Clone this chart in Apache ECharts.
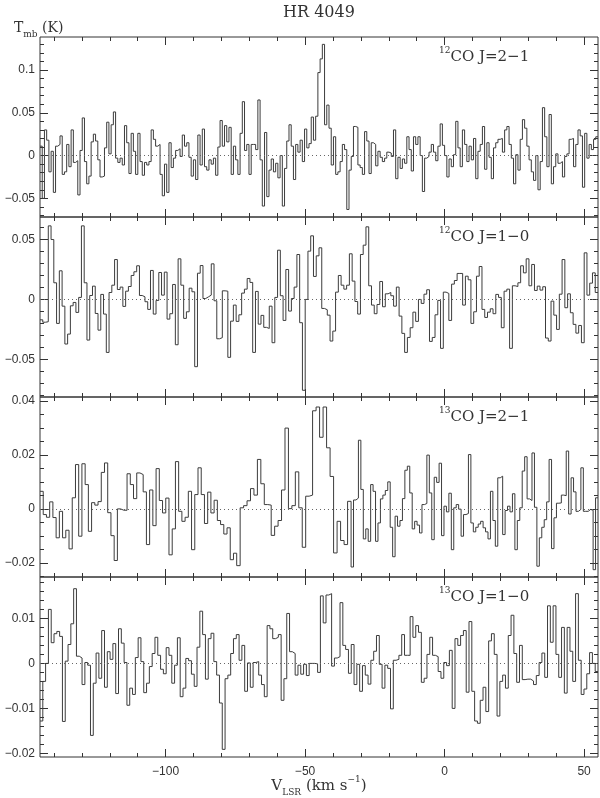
<!DOCTYPE html>
<html><head><meta charset="utf-8">
<script src="https://cdn.jsdelivr.net/npm/echarts@6/dist/echarts.min.js"></script>
<style>html,body{margin:0;padding:0;background:#fff}#c{width:600px;height:798px}</style>
</head><body><div id="c"></div>
<script>
// ---------------- data ----------------
const velocityRange = [-145, 55];           // km/s, first channel edge .. last channel edge
const xTickLabels = [-100, -50, 0, 50];
const xMinorStep = 10;

// 12CO J=2-1 (Tmb, K)
const co12_21 = [
0.011,-0.050,0.030,0.018,-0.019,0.005,-0.043,0.011,0.013,0.023,
-0.022,-0.019,0.013,-0.013,0.030,-0.008,-0.006,-0.046,0.006,0.044,
-0.007,-0.033,-0.024,0.016,0.025,0.017,-0.005,-0.025,-0.024,0.009,
0.039,0.002,0.036,0.051,-0.003,-0.008,-0.003,-0.011,0.035,0.015,
-0.021,0.026,0.005,-0.022,0.026,-0.007,-0.023,-0.008,-0.011,-0.007,
0.030,0.019,0.011,0.013,-0.022,-0.047,-0.010,-0.043,0.015,-0.014,
-0.003,0.006,0.008,-0.001,0.024,0.011,0.015,-0.002,-0.024,-0.005,
-0.028,0.024,-0.011,0.031,-0.013,-0.017,-0.005,-0.010,-0.003,-0.023,
0.010,0.041,0.011,0.035,0.016,0.033,-0.022,0.011,-0.005,-0.022,
0.026,0.063,0.006,0.013,-0.022,0.013,0.013,0.007,0.065,-0.005,
-0.059,0.027,-0.048,-0.017,-0.004,-0.019,-0.009,-0.026,0.000,-0.059,
-0.015,0.017,0.036,0.011,-0.028,0.013,0.004,0.018,-0.007,0.031,
0.009,0.014,0.045,0.018,0.046,0.097,0.113,0.130,0.036,0.059,
0.032,
-0.011,0.022,-0.022,-0.019,-0.007,0.013,0.007,-0.063,-0.017,-0.001,
0.034,0.033,-0.011,-0.014,-0.022,0.028,0.017,-0.021,0.015,0.013,
-0.012,0.005,-0.002,-0.007,-0.003,0.004,0.003,-0.001,0.030,-0.027,
-0.002,-0.015,-0.004,-0.009,0.022,0.007,-0.018,0.022,0.013,0.022,
0.000,-0.042,-0.003,-0.001,0.004,0.013,0.004,-0.006,0.011,0.037,
0.012,0.000,-0.025,-0.004,-0.013,0.001,0.040,0.009,-0.013,0.030,
0.013,-0.007,0.011,-0.005,0.020,-0.027,0.005,0.013,0.034,-0.016,
0.015,-0.002,-0.027,0.009,0.015,0.019,0.020,0.004,0.030,0.034,
0.013,-0.003,-0.033,0.001,-0.017,0.019,0.042,0.032,0.011,-0.005,
-0.019,-0.029,0.000,-0.040,-0.007,0.056,0.022,-0.013,0.048,-0.033,
-0.013,0.002,-0.009,-0.007,-0.025,-0.001,0.002,0.019,0.020,-0.013,
0.013,0.030,0.023,-0.037,0.026,-0.003,0.013,0.007,0.019,0.022
];

// 12CO J=1-0
const co12_10 = [
-0.0170,-0.0190,
-0.0186,0.0614,0.0500,0.0139,-0.0200,0.0239,-0.0056,-0.0372,-0.0289,-0.0053,
-0.0025,-0.0108,0.0017,0.0614,0.0139,-0.0339,0.0033,0.0111,-0.0117,-0.0256,
0.0042,-0.0122,-0.0442,0.0058,0.0119,0.0333,0.0083,0.0103,-0.0058,0.0069,
0.0108,0.0200,0.0231,0.0281,0.0033,0.0022,-0.0019,-0.0083,0.0242,-0.0122,
-0.0008,0.0225,0.0036,0.0228,-0.0164,-0.0119,0.0125,-0.0378,0.0339,0.0119,
-0.0158,-0.0103,0.0094,0.0064,-0.0561,0.0219,0.0283,0.0008,0.0022,0.0036,
0.0297,-0.0011,-0.0328,-0.0319,0.0072,0.0069,-0.0483,-0.0181,-0.0047,-0.0183,
-0.0128,0.0053,0.0086,0.0175,0.0142,-0.0442,0.0067,-0.0206,-0.0133,-0.0233,
-0.0242,-0.0056,-0.0361,0.0017,0.0411,0.0031,-0.0175,0.0250,-0.0097,0.0008,
0.0103,0.0375,-0.0194,-0.0758,0.0000,0.0403,0.0531,0.0192,0.0364,0.0431,
-0.0075,-0.0086,-0.0131,-0.0347,-0.0264,0.0061,0.0200,0.0119,0.0086,0.0119,
0.0381,0.0153,-0.0017,-0.0122,0.0375,0.0453,0.0606,0.0114,-0.0047,-0.0119,
-0.0042,0.0150,-0.0061,0.0047,0.0058,0.0031,-0.0056,0.0103,-0.0139,-0.0283,
-0.0442,-0.0317,-0.0236,-0.0106,-0.0183,0.0000,-0.0033,0.0044,0.0081,-0.0350,
-0.0317,-0.0128,-0.0008,-0.0408,0.0061,0.0050,-0.0175,0.0128,0.0158,0.0217,
0.0217,-0.0047,0.0194,0.0164,-0.0200,-0.0103,0.0194,0.0275,-0.0083,-0.0150,
-0.0106,-0.0078,-0.0119,0.0042,0.0017,-0.0236,0.0069,0.0086,-0.0408,0.0114,
0.0108,0.0139,0.0281,0.0222,0.0339,0.0114,0.0292,0.0075,0.0111,0.0078,
0.0106,-0.0322,-0.0347,-0.0014,-0.0131,-0.0250,0.0044,0.0333,-0.0069,0.0047,
-0.0111,-0.0208,-0.0281,-0.0217,-0.0361,0.0389,0.0036,0.0136,0.0222,0.0058
];

// 13CO J=2-1
const co13_21 = [
0.0065,-0.0021,-0.0031,0.0026,-0.0032,-0.0107,-0.0009,-0.0107,-0.0079,-0.0148,
0.0041,0.0164,-0.0101,0.0167,0.0090,-0.0083,0.0023,0.0014,0.0027,0.0135,
0.0170,-0.0014,-0.0099,-0.0191,0.0000,-0.0005,-0.0005,0.0130,0.0090,0.0038,
0.0133,0.0127,0.0063,-0.0132,0.0070,-0.0062,0.0149,0.0031,-0.0015,0.0040,
-0.0170,-0.0074,0.0175,-0.0009,-0.0046,-0.0031,0.0065,-0.0151,0.0053,0.0152,
0.0053,-0.0054,0.0062,-0.0015,0.0032,-0.0043,-0.0058,-0.0093,-0.0070,-0.0188,
-0.0164,-0.0210,0.0004,0.0012,0.0030,0.0075,0.0051,0.0183,0.0093,0.0016,
0.0014,-0.0098,-0.0064,-0.0043,0.0070,0.0299,0.0001,0.0012,0.0137,0.0004,
-0.0142,0.0047,0.0051,0.0363,0.0377,0.0265,0.0377,0.0226,0.0120,-0.0163,
-0.0046,-0.0117,-0.0132,0.0028,-0.0215,0.0033,0.0040,0.0254,0.0072,-0.0111,
-0.0074,-0.0120,0.0090,0.0065,-0.0120,-0.0052,0.0037,0.0051,0.0068,0.0100,
-0.0068,-0.0177,-0.0027,-0.0064,-0.0043,0.0038,0.0143,0.0158,0.0059,-0.0074,
-0.0046,-0.0060,-0.0089,0.0016,0.0020,0.0199,0.0059,-0.0114,0.0117,0.0098,
0.0169,-0.0099,0.0010,-0.0011,0.0058,-0.0151,0.0004,0.0016,-0.0001,-0.0101,
-0.0021,-0.0017,0.0201,-0.0052,-0.0085,-0.0068,-0.0056,-0.0046,-0.0070,-0.0085,
-0.0111,0.0065,-0.0043,-0.0138,0.0115,0.0121,-0.0095,-0.0006,0.0010,-0.0011,
0.0056,-0.0151,-0.0043,0.0004,0.0140,0.0193,0.0037,0.0031,0.0207,0.0006,
-0.0212,-0.0107,-0.0068,-0.0040,0.0026,0.0183,-0.0147,-0.0033,0.0021,0.0022,
0.0051,0.0049,0.0214,-0.0019,0.0115,0.0063,-0.0009,-0.0002,0.0152,-0.0009,
-0.0009,-0.0002,-0.0005,-0.0225,0.0041
];

// 13CO J=1-0
const co13_10 = [
-0.0128,-0.0040,0.0000,0.0120,0.0046,0.0066,0.0071,0.0060,-0.0129,0.0005,
0.0042,0.0088,0.0166,0.0016,0.0012,-0.0047,0.0002,-0.0004,-0.0160,-0.0044,
0.0023,-0.0033,0.0073,-0.0053,0.0026,0.0009,0.0044,-0.0067,0.0077,0.0045,
0.0002,-0.0093,-0.0055,-0.0069,0.0013,0.0057,0.0004,-0.0065,-0.0044,-0.0007,
0.0022,0.0058,0.0018,-0.0013,-0.0023,0.0035,0.0018,-0.0044,-0.0004,0.0057,
-0.0074,-0.0055,0.0011,0.0006,-0.0024,-0.0051,0.0036,0.0116,0.0064,-0.0035,
0.0055,0.0067,0.0004,-0.0026,-0.0088,-0.0191,-0.0034,-0.0026,0.0022,0.0055,
0.0064,0.0007,0.0040,-0.0062,0.0001,-0.0053,0.0002,0.0004,-0.0026,-0.0047,
-0.0074,0.0084,0.0077,0.0055,0.0058,0.0064,-0.0082,-0.0034,0.0111,0.0026,
0.0022,-0.0026,-0.0004,-0.0024,-0.0002,-0.0027,0.0000,0.0000,-0.0001,-0.0020,
0.0150,0.0090,0.0152,0.0155,-0.0006,0.0012,0.0015,0.0135,0.0040,0.0031,
-0.0022,0.0042,-0.0047,-0.0002,-0.0062,-0.0005,-0.0026,-0.0046,0.0007,0.0027,
0.0062,-0.0002,-0.0055,-0.0004,-0.0011,-0.0101,0.0007,0.0009,0.0018,0.0064,
0.0018,0.0018,0.0104,0.0058,0.0084,0.0069,-0.0042,-0.0033,0.0020,0.0058,
0.0018,0.0015,-0.0018,-0.0033,0.0002,-0.0005,0.0029,-0.0100,0.0055,0.0040,
0.0062,0.0073,-0.0064,0.0093,-0.0062,-0.0128,-0.0133,-0.0082,-0.0053,-0.0107,
0.0050,0.0066,0.0020,-0.0117,-0.0040,-0.0026,-0.0055,0.0062,0.0107,0.0022,
-0.0042,0.0040,-0.0036,-0.0035,-0.0035,-0.0039,-0.0047,-0.0027,0.0002,0.0023,
-0.0031,0.0128,0.0047,0.0128,0.0020,-0.0031,0.0080,-0.0066,0.0080,0.0027,
-0.0040,0.0155,0.0007,-0.0069,-0.0057,-0.0023,0.0024,0.0000,-0.0018
];

// velocity of channel left edges read at landmarks in the picture: [channel index, km/s]
const co12_21_anchors = [[0, -145], [co12_21.length, 55]];
const co12_10_anchors = [[0, -145], [co12_10.length, 55]];
const co13_21_anchors = [[0, -145], [61, -74.5], [83, -47.3], [94, -33.5], [co13_21.length, 55]];
const co13_10_anchors = [[0, -145], [co13_10.length, 55]];

const spectra = [co12_21, co12_10, co13_21, co13_10];
const anchorSets = [co12_21_anchors, co12_10_anchors, co13_21_anchors, co13_10_anchors];
const panelIsotopes = ['12', '12', '13', '13'];
const panelTransitions = ['CO J=2\u22121', 'CO J=1\u22120', 'CO J=2\u22121', 'CO J=1\u22120'];
const yRanges = [[-0.0718, 0.1386], [-0.0814, 0.0688], [-0.0252, 0.0414], [-0.0208, 0.0192]];
const yTickLabels = [[-0.05, 0, 0.05, 0.1], [-0.05, 0, 0.05], [-0.02, 0, 0.02, 0.04], [-0.02, -0.01, 0, 0.01]];
const yMinorSteps = [0.01, 0.01, 0.005, 0.002];

// ---------------- layout / style ----------------
const PLOT_LEFT = 40, PLOT_W = 558, PANEL_H = 180, PANEL_TOP0 = 37;
const INK = '#333';
const LINE = '#3c3c3c';
const SANS = '"Liberation Sans", Arial, sans-serif';
const SERIF = '"DejaVu Serif", "Liberation Serif", serif';

function ticksBetween(min, max, step) {
  const out = [];
  for (let k = Math.ceil(min / step - 1e-9); k * step <= max + 1e-12; k++) out.push(+(k * step).toFixed(6));
  return out;
}
function fmt(v) {
  if (Math.abs(v) < 1e-12) return '0';
  return String(+(+v).toFixed(4)).replace('-', '\u2212');
}
function edgeVelocity(anchors, k) {
  for (let j = 0; j < anchors.length - 1; j++) {
    const a = anchors[j], b = anchors[j + 1];
    if (k <= b[0]) return a[1] + (k - a[0]) * (b[1] - a[1]) / (b[0] - a[0]);
  }
  return anchors[anchors.length - 1][1];
}

const grids = [], xAxes = [], yAxes = [], series = [];
const xMinor = ticksBetween(velocityRange[0], velocityRange[1], xMinorStep);

spectra.forEach((vals, i) => {
  const top = PANEL_TOP0 + i * PANEL_H;
  grids.push({left: PLOT_LEFT, top: top, width: PLOT_W, height: PANEL_H,
    show: true, borderColor: INK, borderWidth: 1, backgroundColor: 'transparent'});
  const isBottom = i === spectra.length - 1;
  const xBase = {gridIndex: i, type: 'value', min: velocityRange[0], max: velocityRange[1],
    axisLine: {show: false, onZero: false}, splitLine: {show: false}};
  const tickStyle = {color: INK, width: 1};
  ['bottom', 'top'].forEach(pos => {
    xAxes.push(Object.assign({}, xBase, {position: pos,
      axisTick: {show: true, inside: true, length: 4, customValues: xMinor, lineStyle: tickStyle},
      axisLabel: {show: pos === 'bottom' && isBottom, customValues: xTickLabels, formatter: fmt,
        margin: 9, color: INK, fontFamily: SANS, fontSize: 12}}));
    xAxes.push(Object.assign({}, xBase, {position: pos,
      axisTick: {show: true, inside: true, length: 8, customValues: xTickLabels, lineStyle: tickStyle},
      axisLabel: {show: false}}));
  });
  const yr = yRanges[i];
  const yMinor = ticksBetween(yr[0], yr[1], yMinorSteps[i]);
  const yBase = {gridIndex: i, type: 'value', min: yr[0], max: yr[1],
    axisLine: {show: false, onZero: false}, splitLine: {show: false}};
  ['left', 'right'].forEach(pos => {
    yAxes.push(Object.assign({}, yBase, {position: pos,
      axisTick: {show: true, inside: true, length: 4, customValues: yMinor, lineStyle: tickStyle},
      axisLabel: {show: pos === 'left', customValues: yTickLabels[i], formatter: fmt,
        margin: 5, color: INK, fontFamily: SANS, fontSize: 12}}));
    yAxes.push(Object.assign({}, yBase, {position: pos,
      axisTick: {show: true, inside: true, length: 8, customValues: yTickLabels[i], lineStyle: tickStyle},
      axisLabel: {show: false}}));
  });
  const anchors = anchorSets[i];
  const pts = vals.map((y, k) => [edgeVelocity(anchors, k), y]);
  pts.push([edgeVelocity(anchors, vals.length), vals[vals.length - 1]]);
  series.push({type: 'line', xAxisIndex: 4 * i, yAxisIndex: 4 * i, data: pts, step: 'end',
    symbol: 'none', clip: true, lineStyle: {color: LINE, width: 1}, z: 3,
    markLine: {silent: true, symbol: 'none', label: {show: false},
      lineStyle: {type: [1, 3], color: '#666', width: 1}, data: [{yAxis: 0}]}});
});

const graphics = [
  {type: 'text', x: PLOT_LEFT + PLOT_W / 2, y: 13, style: {text: 'HR 4049', fontFamily: SERIF, fontSize: 16,
    fill: INK, align: 'center', verticalAlign: 'middle'}},
  {type: 'text', x: 14, y: 28, style: {text: 'T{sub|mb} (K)', fontFamily: SERIF, fontSize: 14, lineHeight: 22,
    fill: INK, align: 'left', verticalAlign: 'middle',
    rich: {sub: {fontFamily: SERIF, fontSize: 9, lineHeight: 10, verticalAlign: 'bottom', fill: INK}}}},
  {type: 'text', x: PLOT_LEFT + PLOT_W / 2, y: 786, style: {text: 'V{sub|LSR} (km s{sup|\u22121})', fontFamily: SERIF,
    fontSize: 15, lineHeight: 22, fill: INK, align: 'center', verticalAlign: 'middle',
    rich: {sub: {fontFamily: SERIF, fontSize: 9, lineHeight: 10, verticalAlign: 'bottom', fill: INK},
           sup: {fontFamily: SERIF, fontSize: 9, lineHeight: 10, verticalAlign: 'top', fill: INK}}}}
];
spectra.forEach((_, i) => {
  graphics.push({type: 'text', x: 439, y: PANEL_TOP0 + i * PANEL_H + 20,
    style: {text: '{sup|' + panelIsotopes[i] + '}' + panelTransitions[i], fontFamily: SERIF, fontSize: 15,
      lineHeight: 22, fill: INK, align: 'left', verticalAlign: 'middle',
      rich: {sup: {fontFamily: SERIF, fontSize: 9, lineHeight: 10, verticalAlign: 'top', fill: INK}}}});
});

const chart = echarts.init(document.getElementById('c'), null, {renderer: 'canvas'});
chart.setOption({
  animation: false,
  backgroundColor: '#fff',
  grid: grids, xAxis: xAxes, yAxis: yAxes, series: series, graphic: graphics
});
</script></body></html>
